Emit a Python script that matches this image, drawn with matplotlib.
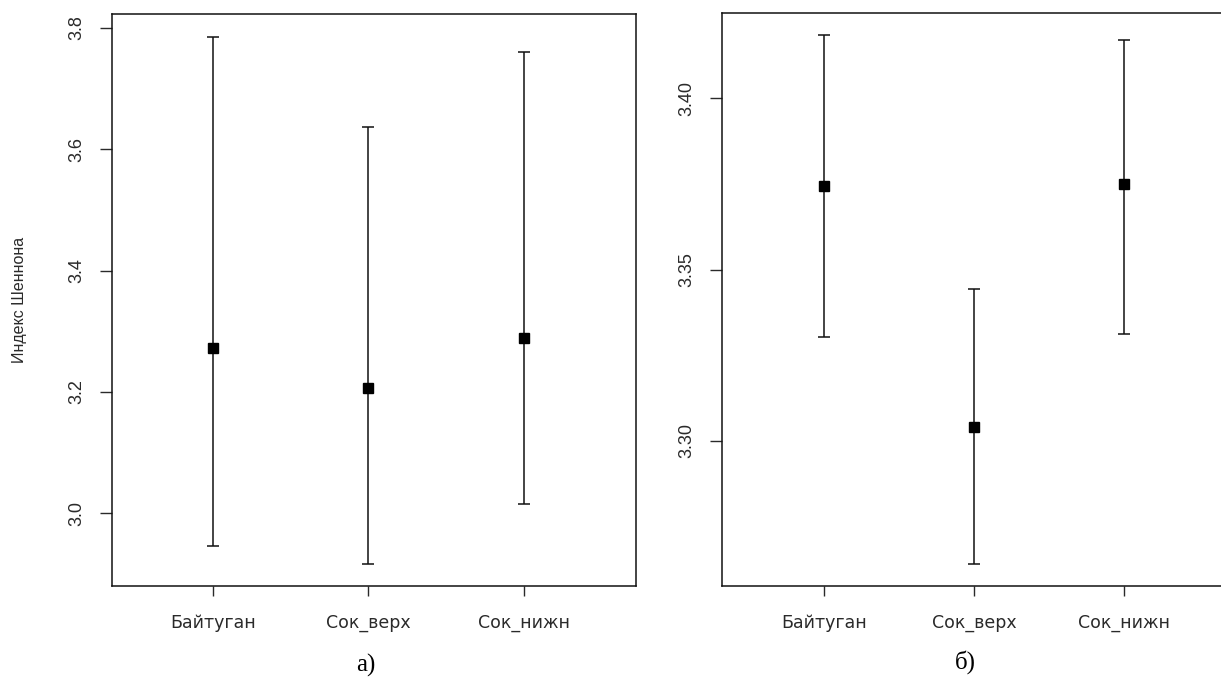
import matplotlib
matplotlib.use("Agg")
import matplotlib.pyplot as plt

# Данные (читаются с рисунка)
sites = ["Байтуган", "Сок_верх", "Сок_нижн"]

# а) индекс Шеннона
mean_a = [3.272, 3.206, 3.289]
low_a = [2.946, 2.916, 3.015]
high_a = [3.785, 3.637, 3.760]

# б)
mean_b = [3.3743, 3.3041, 3.3750]
low_b = [3.3304, 3.2639, 3.3312]
high_b = [3.4186, 3.3442, 3.4171]

plt.rcParams['font.family'] = ['Liberation Sans', 'DejaVu Sans']

fig = plt.figure(figsize=(12.21, 6.8), dpi=100)
ax1 = fig.add_axes([0.0917, 0.1382, 0.4292, 0.8412])
ax2 = fig.add_axes([0.5913, 0.1382, 0.418, 0.8427])

xs = [1, 2, 3]

def draw(ax, mean, low, high):
	err = [[m - l for m, l in zip(mean, low)], [h - m for m, h in zip(mean, high)]]
	ax.errorbar(xs, mean, yerr=err, fmt='s', color='black', ecolor='#111111',
		markersize=7.5, elinewidth=1.1, capsize=4.5, capthick=1.1)
	ax.set_xticks(xs)
	ax.set_xticklabels(sites, family='DejaVu Sans', fontsize=12.5)
	for sp in ax.spines.values():
		sp.set_linewidth(1.1)
		sp.set_color('#111111')
	ax.tick_params(axis='x', length=7, width=1, pad=13, colors='#2a2a2a')
	ax.tick_params(axis='y', length=9, width=1, pad=10, labelsize=13, colors='#2a2a2a')

draw(ax1, mean_a, low_a, high_a)
ax1.set_xlim(0.351, 3.72)
ax1.set_ylim(2.880, 3.823)
ax1.set_yticks([3.0, 3.2, 3.4, 3.6, 3.8])
ax1.set_yticklabels(["3.0", "3.2", "3.4", "3.6", "3.8"], rotation=90, va='center')
ax1.set_ylabel("Индекс Шеннона", fontsize=11.5, color='#2a2a2a', labelpad=30)

draw(ax2, mean_b, low_b, high_b)
ax2.set_xlim(0.323, 3.72)
ax2.set_ylim(3.2576, 3.4249)
ax2.set_yticks([3.30, 3.35, 3.40])
ax2.set_yticklabels(["3.30", "3.35", "3.40"], rotation=90, va='center')

fig.text(366 / 1221, 1 - 665 / 680, "а)", fontsize=18, family='Liberation Serif', ha='center', va='center')
fig.text(965 / 1221, 1 - 662 / 680, "б)", fontsize=18, family='Liberation Serif', ha='center', va='center')

fig.savefig("out.png", dpi=100)
